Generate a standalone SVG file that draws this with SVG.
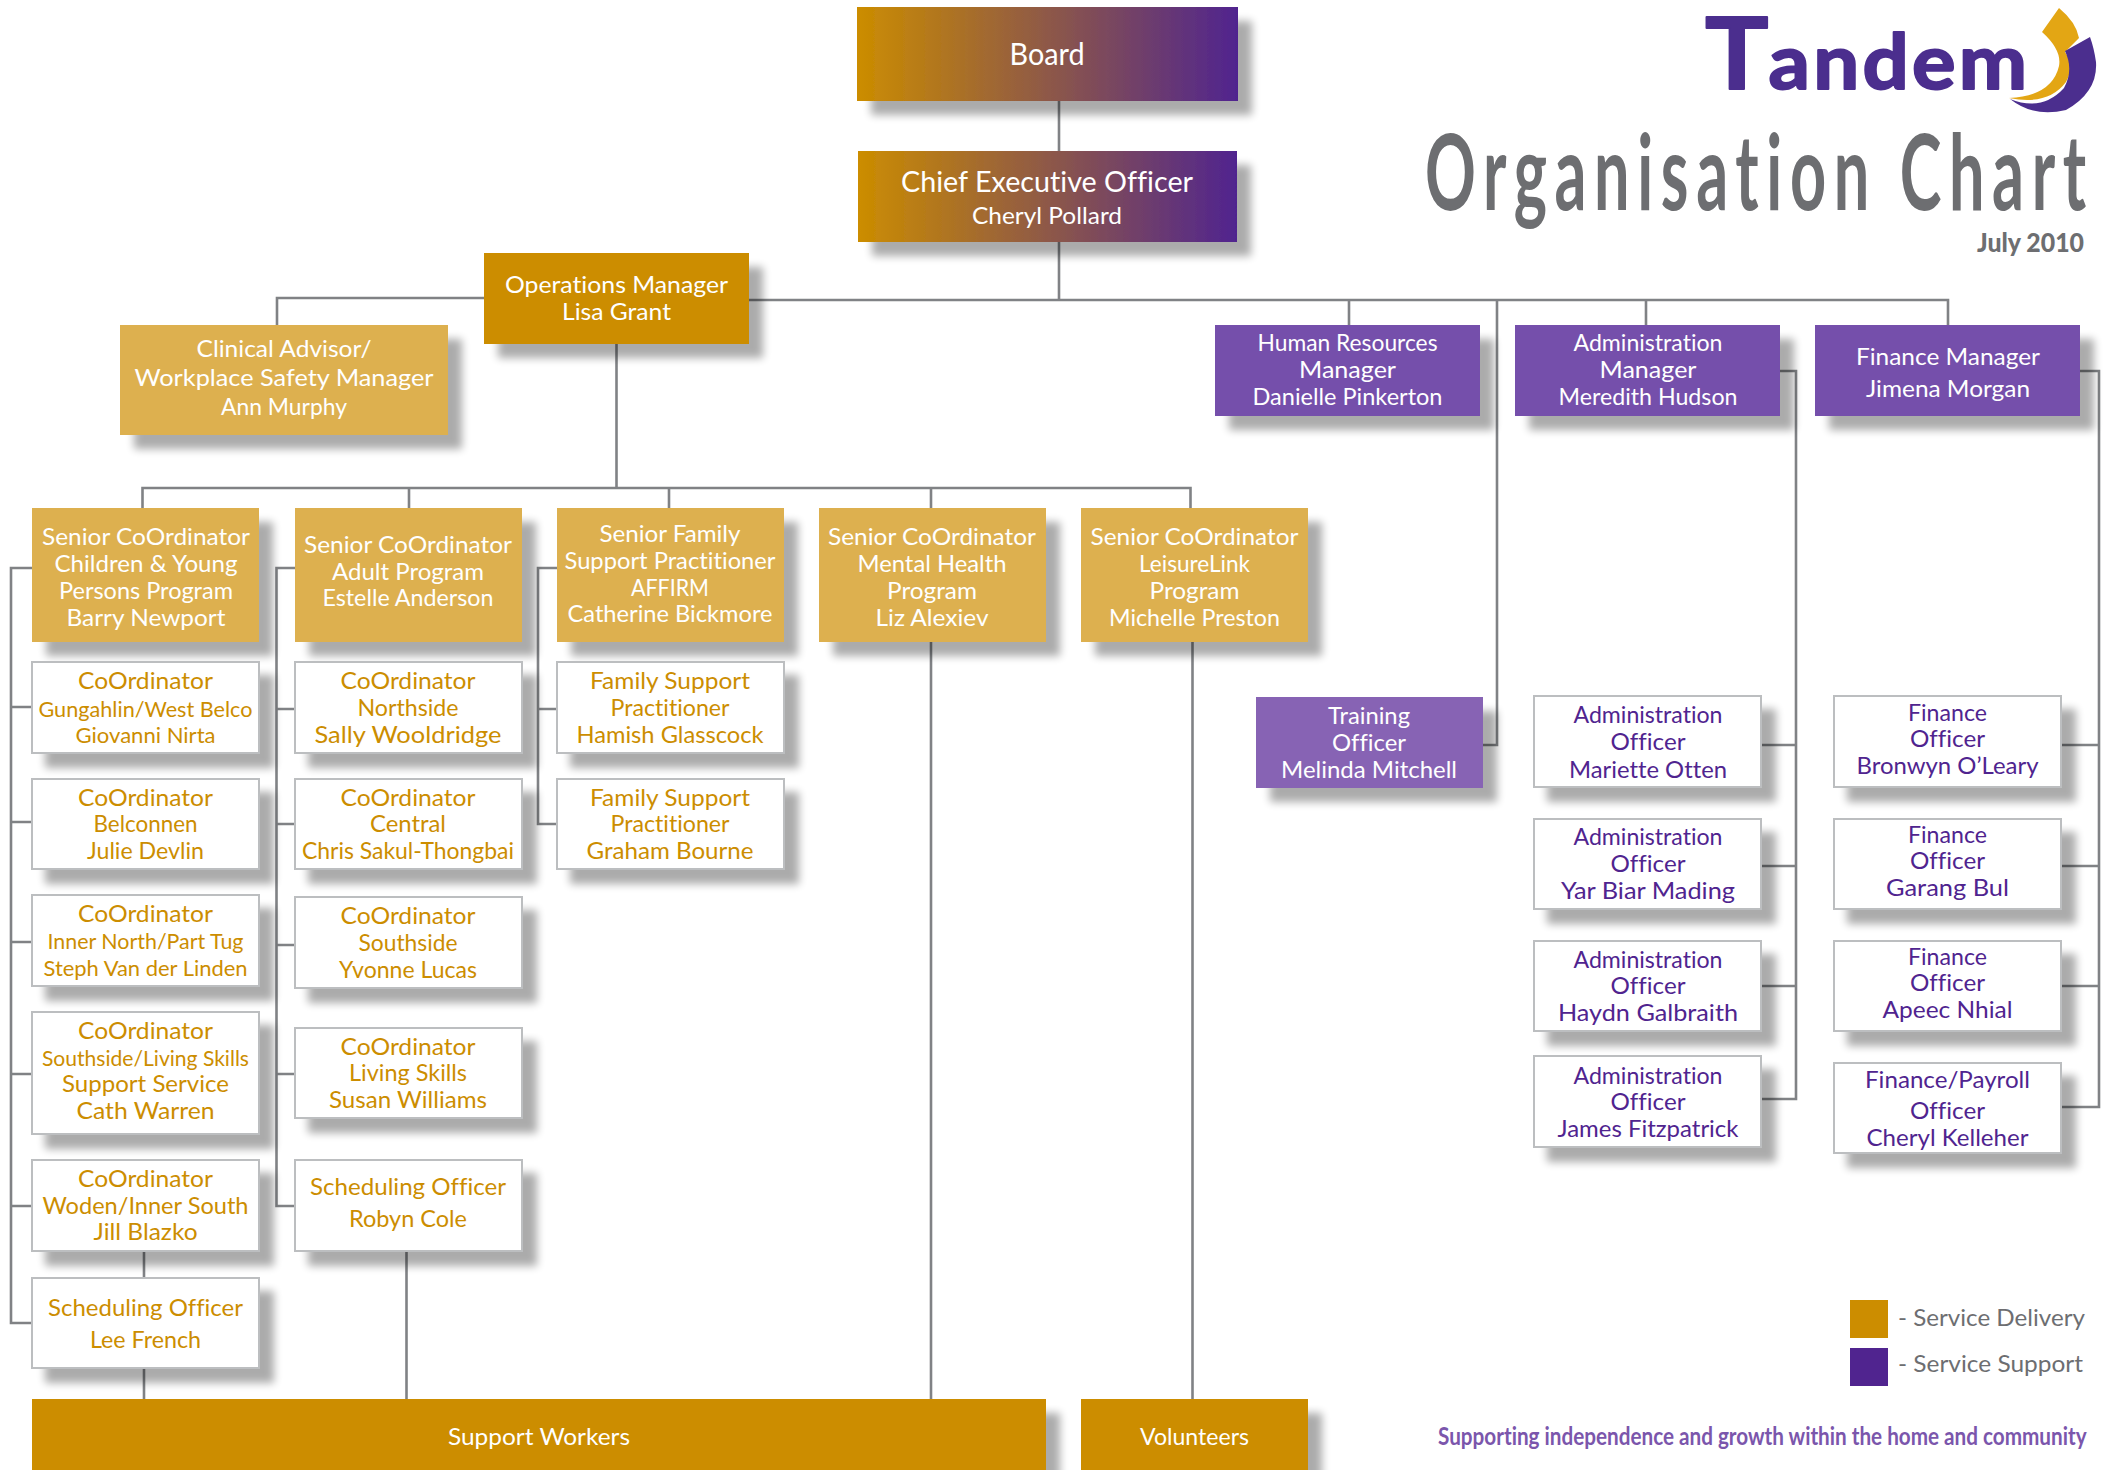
<svg xmlns="http://www.w3.org/2000/svg" width="2103" height="1470" viewBox="0 0 2103 1470">
<style>
text{font-family:"Lato","Liberation Sans",sans-serif;text-anchor:middle;font-size:23.5px;font-variant-ligatures:none}
.w{fill:#fff}.o{fill:#CC8D00}.p{fill:#50248F}
.sm{font-size:21.5px}
.conn{fill:none;stroke:#808285;stroke-width:2.6}
.bo{fill:#fff;stroke:#BCBEC0;stroke-width:2}
.lo{fill:#DDB04F}.do{fill:#CC8D00}.mp{fill:#744FAB}.tp{fill:#8763B4}.gr{fill:url(#g)}
.s{filter:url(#sh)}
.gy{fill:#6D6E71}
</style>
<defs>
<linearGradient id="g" x1="0" x2="1" y1="0" y2="0"><stop offset="0" stop-color="#CC8D00"/><stop offset="1" stop-color="#50248F"/></linearGradient>
<filter id="sh" x="-10%" y="-10%" width="130%" height="150%"><feGaussianBlur in="SourceAlpha" stdDeviation="4.5"/><feOffset dx="14" dy="14"/><feComponentTransfer><feFuncA type="linear" slope="0.33"/></feComponentTransfer><feMerge><feMergeNode/><feMergeNode in="SourceGraphic"/></feMerge></filter>
</defs>
<rect width="2103" height="1470" fill="#fff"/>
<g id="connectors" class="conn">
<path d="M1059 101V300M484 298H277V325M749 300H1948V325M1349 300V325M1646 300V325M1497 300V745H1483"/>
<path d="M616.5 344V488M142.5 508V488H1190.5V508M409 488V508M669 488V508M931 488V1399M1192.5 642V1399"/>
<path d="M32 568H11V1323H32M11 707H32M11 822H32M11 942H32M11 1074H32M11 1206H32"/>
<path d="M144 1251V1278M144 1368V1399M406.5 1251V1399"/>
<path d="M295 568H276.5V1206H295M276.5 709H295M276.5 824H295M276.5 945H295M276.5 1074H295"/>
<path d="M557 568H538V824H557M538 709H557"/>
<path d="M1780 371H1796V1099H1761M1761 745H1796M1761 866H1796M1761 986H1796"/>
<path d="M2080 371H2099V1107H2061M2061 745H2099M2061 866H2099M2061 986H2099"/>
</g>
<g id="board"><rect class="gr s" x="857" y="7" width="381" height="94"/><text class="w" x="1047" y="65" style="font-size:30px" textLength="75" lengthAdjust="spacingAndGlyphs">Board</text></g>
<g id="ceo"><rect class="gr s" x="858" y="151" width="379" height="91"/><text class="w" x="1047" y="192" style="font-size:29px" textLength="292" lengthAdjust="spacingAndGlyphs">Chief Executive Officer</text><text class="w" x="1047" y="224" textLength="150" lengthAdjust="spacingAndGlyphs">Cheryl Pollard</text></g>
<g id="ops"><rect class="do s" x="484" y="253" width="265" height="91"/><text class="w" x="616.5" y="293" textLength="223" lengthAdjust="spacingAndGlyphs">Operations Manager</text><text class="w" x="616.5" y="320" textLength="109" lengthAdjust="spacingAndGlyphs">Lisa Grant</text></g>
<g id="clinical"><rect class="lo s" x="120" y="325" width="328" height="110"/><text class="w" x="284" y="357" textLength="175" lengthAdjust="spacingAndGlyphs">Clinical Advisor/</text><text class="w" x="284" y="386" textLength="299" lengthAdjust="spacingAndGlyphs">Workplace Safety Manager</text><text class="w" x="284" y="415" textLength="126" lengthAdjust="spacingAndGlyphs">Ann Murphy</text></g>
<g id="hr"><rect class="mp s" x="1215" y="325" width="265" height="91"/><text class="w" x="1347.5" y="351" textLength="180" lengthAdjust="spacingAndGlyphs">Human Resources</text><text class="w" x="1347.5" y="378" textLength="97" lengthAdjust="spacingAndGlyphs">Manager</text><text class="w" x="1347.5" y="405" textLength="190" lengthAdjust="spacingAndGlyphs">Danielle Pinkerton</text></g>
<g id="admin"><rect class="mp s" x="1515" y="325" width="265" height="91"/><text class="w" x="1648" y="351" textLength="149" lengthAdjust="spacingAndGlyphs">Administration</text><text class="w" x="1648" y="378" textLength="97" lengthAdjust="spacingAndGlyphs">Manager</text><text class="w" x="1648" y="405" textLength="179" lengthAdjust="spacingAndGlyphs">Meredith Hudson</text></g>
<g id="finance"><rect class="mp s" x="1815" y="325" width="265" height="91"/><text class="w" x="1948" y="365" textLength="184" lengthAdjust="spacingAndGlyphs">Finance Manager</text><text class="w" x="1948" y="397" textLength="164" lengthAdjust="spacingAndGlyphs">Jimena Morgan</text></g>
<g id="training"><rect class="tp s" x="1256" y="697" width="227" height="91"/><text class="w" x="1369" y="724" textLength="82" lengthAdjust="spacingAndGlyphs">Training</text><text class="w" x="1369" y="751" textLength="74" lengthAdjust="spacingAndGlyphs">Officer</text><text class="w" x="1369" y="778" textLength="176" lengthAdjust="spacingAndGlyphs">Melinda Mitchell</text></g>
<g id="senior1"><rect class="lo s" x="32" y="508" width="227" height="134"/><text class="w" x="146" y="545" textLength="208" lengthAdjust="spacingAndGlyphs">Senior CoOrdinator</text><text class="w" x="146" y="572" textLength="183" lengthAdjust="spacingAndGlyphs">Children &amp; Young</text><text class="w" x="146" y="599" textLength="174" lengthAdjust="spacingAndGlyphs">Persons Program</text><text class="w" x="146" y="626" textLength="159" lengthAdjust="spacingAndGlyphs">Barry Newport</text></g>
<g id="senior2"><rect class="lo s" x="295" y="508" width="227" height="134"/><text class="w" x="408" y="553" textLength="208" lengthAdjust="spacingAndGlyphs">Senior CoOrdinator</text><text class="w" x="408" y="580" textLength="152" lengthAdjust="spacingAndGlyphs">Adult Program</text><text class="w" x="408" y="606" textLength="171" lengthAdjust="spacingAndGlyphs">Estelle Anderson</text></g>
<g id="senior3"><rect class="lo s" x="557" y="508" width="227" height="134"/><text class="w" x="670" y="542" textLength="141" lengthAdjust="spacingAndGlyphs">Senior Family</text><text class="w" x="670" y="569" textLength="211" lengthAdjust="spacingAndGlyphs">Support Practitioner</text><text class="w" x="670" y="596" textLength="78" lengthAdjust="spacingAndGlyphs">AFFIRM</text><text class="w" x="670" y="622" textLength="205" lengthAdjust="spacingAndGlyphs">Catherine Bickmore</text></g>
<g id="senior4"><rect class="lo s" x="819" y="508" width="227" height="134"/><text class="w" x="932" y="545" textLength="208" lengthAdjust="spacingAndGlyphs">Senior CoOrdinator</text><text class="w" x="932" y="572" textLength="149" lengthAdjust="spacingAndGlyphs">Mental Health</text><text class="w" x="932" y="599" textLength="90" lengthAdjust="spacingAndGlyphs">Program</text><text class="w" x="932" y="626" textLength="113" lengthAdjust="spacingAndGlyphs">Liz Alexiev</text></g>
<g id="senior5"><rect class="lo s" x="1081" y="508" width="227" height="134"/><text class="w" x="1194.5" y="545" textLength="208" lengthAdjust="spacingAndGlyphs">Senior CoOrdinator</text><text class="w" x="1194.5" y="572" textLength="111" lengthAdjust="spacingAndGlyphs">LeisureLink</text><text class="w" x="1194.5" y="599" textLength="90" lengthAdjust="spacingAndGlyphs">Program</text><text class="w" x="1194.5" y="626" textLength="171" lengthAdjust="spacingAndGlyphs">Michelle Preston</text></g>
<g id="c1-1"><rect class="bo s" x="32" y="662" width="227" height="91"/><text class="o" x="145.5" y="689" textLength="135" lengthAdjust="spacingAndGlyphs">CoOrdinator</text><text class="o sm" x="145.5" y="717" textLength="214" lengthAdjust="spacingAndGlyphs">Gungahlin/West Belco</text><text class="o sm" x="145.5" y="743" textLength="140" lengthAdjust="spacingAndGlyphs">Giovanni Nirta</text></g>
<g id="c1-2"><rect class="bo s" x="32" y="779" width="227" height="90"/><text class="o" x="145.5" y="806" textLength="135" lengthAdjust="spacingAndGlyphs">CoOrdinator</text><text class="o" x="145.5" y="832" textLength="104" lengthAdjust="spacingAndGlyphs">Belconnen</text><text class="o" x="145.5" y="859" textLength="117" lengthAdjust="spacingAndGlyphs">Julie Devlin</text></g>
<g id="c1-3"><rect class="bo s" x="32" y="895" width="227" height="91"/><text class="o" x="145.5" y="922" textLength="135" lengthAdjust="spacingAndGlyphs">CoOrdinator</text><text class="o sm" x="145.5" y="949" textLength="196" lengthAdjust="spacingAndGlyphs">Inner North/Part Tug</text><text class="o sm" x="145.5" y="976" textLength="204" lengthAdjust="spacingAndGlyphs">Steph Van der Linden</text></g>
<g id="c1-4"><rect class="bo s" x="32" y="1012" width="227" height="122"/><text class="o" x="145.5" y="1039" textLength="135" lengthAdjust="spacingAndGlyphs">CoOrdinator</text><text class="o sm" x="145.5" y="1066" textLength="207" lengthAdjust="spacingAndGlyphs">Southside/Living Skills</text><text class="o" x="145.5" y="1092" textLength="167" lengthAdjust="spacingAndGlyphs">Support Service</text><text class="o" x="145.5" y="1119" textLength="138" lengthAdjust="spacingAndGlyphs">Cath Warren</text></g>
<g id="c1-5"><rect class="bo s" x="32" y="1160" width="227" height="91"/><text class="o" x="145.5" y="1187" textLength="135" lengthAdjust="spacingAndGlyphs">CoOrdinator</text><text class="o" x="145.5" y="1214" textLength="206" lengthAdjust="spacingAndGlyphs">Woden/Inner South</text><text class="o" x="145.5" y="1240" textLength="104" lengthAdjust="spacingAndGlyphs">Jill Blazko</text></g>
<g id="c1-6"><rect class="bo s" x="32" y="1278" width="227" height="90"/><text class="o" x="145.5" y="1316" textLength="195" lengthAdjust="spacingAndGlyphs">Scheduling Officer</text><text class="o" x="145.5" y="1348" textLength="111" lengthAdjust="spacingAndGlyphs">Lee French</text></g>
<g id="c2-1"><rect class="bo s" x="295" y="662" width="227" height="91"/><text class="o" x="408" y="689" textLength="135" lengthAdjust="spacingAndGlyphs">CoOrdinator</text><text class="o" x="408" y="716" textLength="101" lengthAdjust="spacingAndGlyphs">Northside</text><text class="o" x="408" y="743" textLength="187" lengthAdjust="spacingAndGlyphs">Sally Wooldridge</text></g>
<g id="c2-2"><rect class="bo s" x="295" y="779" width="227" height="90"/><text class="o" x="408" y="806" textLength="135" lengthAdjust="spacingAndGlyphs">CoOrdinator</text><text class="o" x="408" y="832" textLength="76" lengthAdjust="spacingAndGlyphs">Central</text><text class="o" x="408" y="859" textLength="212" lengthAdjust="spacingAndGlyphs">Chris Sakul-Thongbai</text></g>
<g id="c2-3"><rect class="bo s" x="295" y="897" width="227" height="91"/><text class="o" x="408" y="924" textLength="135" lengthAdjust="spacingAndGlyphs">CoOrdinator</text><text class="o" x="408" y="951" textLength="99" lengthAdjust="spacingAndGlyphs">Southside</text><text class="o" x="408" y="978" textLength="138" lengthAdjust="spacingAndGlyphs">Yvonne Lucas</text></g>
<g id="c2-4"><rect class="bo s" x="295" y="1028" width="227" height="90"/><text class="o" x="408" y="1055" textLength="135" lengthAdjust="spacingAndGlyphs">CoOrdinator</text><text class="o" x="408" y="1081" textLength="118" lengthAdjust="spacingAndGlyphs">Living Skills</text><text class="o" x="408" y="1108" textLength="158" lengthAdjust="spacingAndGlyphs">Susan Williams</text></g>
<g id="c2-5"><rect class="bo s" x="295" y="1160" width="227" height="91"/><text class="o" x="408" y="1195" textLength="196" lengthAdjust="spacingAndGlyphs">Scheduling Officer</text><text class="o" x="408" y="1227" textLength="118" lengthAdjust="spacingAndGlyphs">Robyn Cole</text></g>
<g id="c3-1"><rect class="bo s" x="557" y="662" width="227" height="91"/><text class="o" x="670" y="689" textLength="160" lengthAdjust="spacingAndGlyphs">Family Support</text><text class="o" x="670" y="716" textLength="119" lengthAdjust="spacingAndGlyphs">Practitioner</text><text class="o" x="670" y="743" textLength="187" lengthAdjust="spacingAndGlyphs">Hamish Glasscock</text></g>
<g id="c3-2"><rect class="bo s" x="557" y="779" width="227" height="90"/><text class="o" x="670" y="806" textLength="160" lengthAdjust="spacingAndGlyphs">Family Support</text><text class="o" x="670" y="832" textLength="119" lengthAdjust="spacingAndGlyphs">Practitioner</text><text class="o" x="670" y="859" textLength="167" lengthAdjust="spacingAndGlyphs">Graham Bourne</text></g>
<g id="a1"><rect class="bo s" x="1534" y="696" width="227" height="91"/><text class="p" x="1648" y="723" textLength="149" lengthAdjust="spacingAndGlyphs">Administration</text><text class="p" x="1648" y="750" textLength="75" lengthAdjust="spacingAndGlyphs">Officer</text><text class="p" x="1648" y="778" textLength="158" lengthAdjust="spacingAndGlyphs">Mariette Otten</text></g>
<g id="a2"><rect class="bo s" x="1534" y="819" width="227" height="90"/><text class="p" x="1648" y="845" textLength="149" lengthAdjust="spacingAndGlyphs">Administration</text><text class="p" x="1648" y="872" textLength="75" lengthAdjust="spacingAndGlyphs">Officer</text><text class="p" x="1648" y="899" textLength="174" lengthAdjust="spacingAndGlyphs">Yar Biar Mading</text></g>
<g id="a3"><rect class="bo s" x="1534" y="941" width="227" height="90"/><text class="p" x="1648" y="968" textLength="149" lengthAdjust="spacingAndGlyphs">Administration</text><text class="p" x="1648" y="994" textLength="75" lengthAdjust="spacingAndGlyphs">Officer</text><text class="p" x="1648" y="1021" textLength="180" lengthAdjust="spacingAndGlyphs">Haydn Galbraith</text></g>
<g id="a4"><rect class="bo s" x="1534" y="1056" width="227" height="91"/><text class="p" x="1648" y="1084" textLength="149" lengthAdjust="spacingAndGlyphs">Administration</text><text class="p" x="1648" y="1110" textLength="75" lengthAdjust="spacingAndGlyphs">Officer</text><text class="p" x="1648" y="1137" textLength="181" lengthAdjust="spacingAndGlyphs">James Fitzpatrick</text></g>
<g id="f1"><rect class="bo s" x="1834" y="696" width="227" height="91"/><text class="p" x="1947.5" y="721" textLength="79" lengthAdjust="spacingAndGlyphs">Finance</text><text class="p" x="1947.5" y="747" textLength="75" lengthAdjust="spacingAndGlyphs">Officer</text><text class="p" x="1947.5" y="774" textLength="182" lengthAdjust="spacingAndGlyphs">Bronwyn O’Leary</text></g>
<g id="f2"><rect class="bo s" x="1834" y="819" width="227" height="90"/><text class="p" x="1947.5" y="843" textLength="79" lengthAdjust="spacingAndGlyphs">Finance</text><text class="p" x="1947.5" y="869" textLength="75" lengthAdjust="spacingAndGlyphs">Officer</text><text class="p" x="1947.5" y="896" textLength="123" lengthAdjust="spacingAndGlyphs">Garang Bul</text></g>
<g id="f3"><rect class="bo s" x="1834" y="941" width="227" height="90"/><text class="p" x="1947.5" y="965" textLength="79" lengthAdjust="spacingAndGlyphs">Finance</text><text class="p" x="1947.5" y="991" textLength="75" lengthAdjust="spacingAndGlyphs">Officer</text><text class="p" x="1947.5" y="1018" textLength="130" lengthAdjust="spacingAndGlyphs">Apeec Nhial</text></g>
<g id="f4"><rect class="bo s" x="1834" y="1063" width="227" height="90"/><text class="p" x="1947.5" y="1088" textLength="165" lengthAdjust="spacingAndGlyphs">Finance/Payroll</text><text class="p" x="1947.5" y="1119" textLength="75" lengthAdjust="spacingAndGlyphs">Officer</text><text class="p" x="1947.5" y="1146" textLength="162" lengthAdjust="spacingAndGlyphs">Cheryl Kelleher</text></g>
<g id="support"><rect class="do s" x="32" y="1399" width="1014" height="71"/><text class="w" x="539" y="1445" textLength="182" lengthAdjust="spacingAndGlyphs">Support Workers</text></g>
<g id="volunteers"><rect class="do s" x="1081" y="1399" width="227" height="71"/><text class="w" x="1194.5" y="1445" textLength="109" lengthAdjust="spacingAndGlyphs">Volunteers</text></g>
<g id="logo">
<text transform="translate(1705 89) scale(1.06 1)" x="0" y="0" style="text-anchor:start;font-size:77px;font-weight:700;fill:#4B2E8E;stroke:#4B2E8E;stroke-width:2;stroke-linejoin:round"><tspan style="font-size:100px">T</tspan><tspan letter-spacing="3">andem</tspan></text>
<path fill="#E3A614" d="M2059 8L2042 32Q2062 50 2059 66Q2052 96 2009 98Q2048 106 2066 82Q2075 66 2065 52L2079 38Q2076 22 2059 8Z"/>
<path fill="#4B2E8E" d="M2090 37L2065 51Q2074 70 2064 88Q2042 112 2010 99Q2034 118 2066 110Q2098 92 2096 62Q2094 48 2090 37Z"/>
</g>
<g id="title">
<text class="gy" transform="translate(1425 210) scale(.6 1)" x="0" y="0" style="text-anchor:start;font-size:105px;font-weight:700" textLength="1102" lengthAdjust="spacing">Organisation Chart</text>
<text class="gy" x="1977" y="252" style="text-anchor:start;font-size:26px;font-weight:900" textLength="107" lengthAdjust="spacingAndGlyphs">July 2010</text>
</g>
<g id="legend">
<rect x="1850" y="1300" width="38" height="38" fill="#CC8D00"/><rect x="1850" y="1348" width="38" height="38" fill="#50248F"/>
<text class="gy" x="1898" y="1326" style="text-anchor:start" textLength="187" lengthAdjust="spacingAndGlyphs">- Service Delivery</text>
<text class="gy" x="1898" y="1372" style="text-anchor:start" textLength="185" lengthAdjust="spacingAndGlyphs">- Service Support</text>
</g>
<text id="slogan" transform="translate(1438 1445) scale(.88 1)" x="0" y="0" style="text-anchor:start;font-size:24px;font-weight:700;fill:#7B56AC" textLength="737" lengthAdjust="spacingAndGlyphs">Supporting independence and growth within the home and community</text>
</svg>
